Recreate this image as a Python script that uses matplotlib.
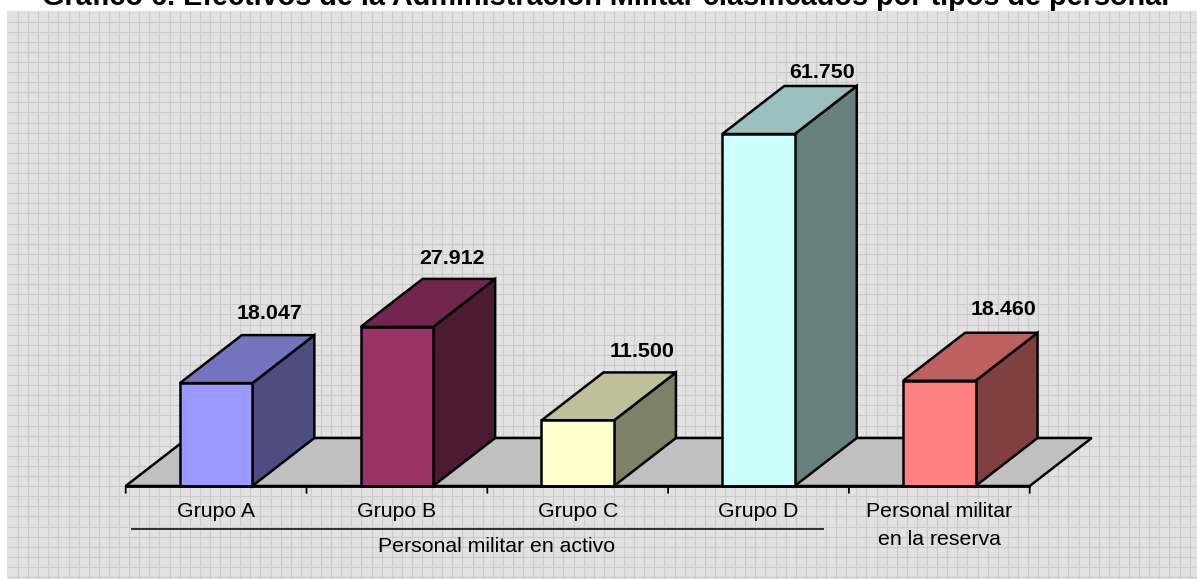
import numpy as np
import matplotlib
matplotlib.use("Agg")
import matplotlib.pyplot as plt
from matplotlib.patches import Polygon

plt.rcParams['font.family'] = ['Liberation Sans', 'DejaVu Sans']

# ---- data ----
categories = ["Grupo A", "Grupo B", "Grupo C", "Grupo D", "Personal militar\nen la reserva"]
values = [18047, 27912, 11500, 61750, 18460]
value_labels = ["18.047", "27.912", "11.500", "61.750", "18.460"]
group_label = "Personal militar en activo"
title = "Gráfico 6. Efectivos de la Administración Militar clasificados por tipos de personal"
front_colors = ["#9999FF", "#993366", "#FFFFCC", "#CCFFFF", "#FF8080"]
top_colors = ["#7373BF", "#73264D", "#BFBF99", "#99BFBF", "#BF6060"]
side_colors = ["#4D4D80", "#4D1A33", "#808066", "#668080", "#804040"]
# label placement relative to the back top corner of each bar, in pixels
label_dx = [-45, -43, -34, -35, -34]
label_dy = [22, 20, 21, 14, 23]

W, H = 1197, 579
fig = plt.figure(figsize=(W / 100, H / 100), dpi=100, facecolor="white")

# ---- textured backdrop (figure pixels) ----
bg = fig.add_axes([0, 0, 1, 1], zorder=0)
bg.axis("off")
panel_x0, panel_y0 = 7, 11
yy, xx = np.mgrid[panel_y0:H, panel_x0:W]
tex = np.where((xx + yy) % 2 == 0, 0.89, 0.875)
bg.imshow(tex, cmap="gray", vmin=0, vmax=1, extent=(panel_x0, W, H, panel_y0),
          interpolation="nearest", aspect="auto")
for x in np.arange(panel_x0 + 11, W, 10.1):
    bg.plot([x, x], [panel_y0, H], color="#CBCBCB", lw=0.8, solid_capstyle="butt")
for y in np.arange(panel_y0 + 10.5, H, 10.1):
    bg.plot([panel_x0, W], [y, y], color="#CBCBCB", lw=0.8, solid_capstyle="butt")
bg.set_xlim(0, W); bg.set_ylim(H, 0)

# ---- chart axes: x in category units, y in value units ----
x0_px, x1_px = 125.7, 1029.7
base_px = 486
px_per_unit = 352 / 61750
ax_top_px = 60
ax = fig.add_axes([x0_px / W, 1 - base_px / H, (x1_px - x0_px) / W, (base_px - ax_top_px) / H],
                  zorder=1)
ax.set_xlim(0, len(values))
ax.set_ylim(0, (base_px - ax_top_px) / px_per_unit)
ax.patch.set_alpha(0)
for s in ax.spines.values():
    s.set_visible(False)
ax.set_xticks([]); ax.set_yticks([])

n = len(values)
cat_px = (x1_px - x0_px) / n
dx = 62 / cat_px            # depth in category units
dy = 48 / px_per_unit       # depth in value units
bw = 72.5 / cat_px
lw = 1.8
ec = "black"
px = 0.72                   # points per pixel at dpi 100

def poly(pts, fc, z=2):
    ax.add_patch(Polygon(pts, closed=True, fc=fc, ec=ec, lw=lw, joinstyle="miter",
                         zorder=z, clip_on=False))

# floor
poly([(0, 0), (n, 0), (n + dx, dy), (dx, dy)], "#C0C0C0", z=2)
# bars
for i, (v, f, t, s, lab) in enumerate(zip(values, front_colors, top_colors, side_colors, value_labels)):
    l, r = i + 0.5 - bw / 2, i + 0.5 + bw / 2
    poly([(r, 0), (r + dx, dy), (r + dx, v + dy), (r, v)], s, z=3)
    poly([(l, v), (r, v), (r + dx, v + dy), (l + dx, v + dy)], t, z=3)
    poly([(l, 0), (r, 0), (r, v), (l, v)], f, z=4)
    ax.annotate(lab, (r + dx, v + dy), xytext=(label_dx[i] * px, label_dy[i] * px),
                textcoords="offset points", ha="center", va="center", fontsize=15.4,
                fontweight="bold", color="black", annotation_clip=False, zorder=6)

# axis line and ticks
ax.plot([0, n], [0, 0], color=ec, lw=2.0, zorder=5, clip_on=False, solid_capstyle="butt")
for i in range(n + 1):
    ax.annotate("", (i, 0), xytext=(0, -5), textcoords="offset points",
                arrowprops=dict(arrowstyle="-", color=ec, lw=1.3, shrinkA=0, shrinkB=0))

# category labels
for i, c in enumerate(categories):
    ax.annotate(c, (i + 0.5, 0), xytext=(0, -16 * px), textcoords="offset points", ha="center",
                va="top", fontsize=15.3, linespacing=1.6, annotation_clip=False)

# group bracket under the active-duty categories
ybr = -43 / px_per_unit
ax.plot([0.03, 3.86], [ybr, ybr], color=ec, lw=1.1, clip_on=False, solid_capstyle="butt")
ax.annotate(group_label, (2.05, 0), xytext=(0, -51 * px), textcoords="offset points", ha="center",
            va="top", fontsize=15.3, annotation_clip=False)

# title, cropped by the top edge as in the source
fig.text(605.5 / W, 1 - 5 / H, title, ha="center", va="baseline", fontsize=20.8,
         fontweight="bold", color="black")

fig.savefig("out.png", dpi=100, facecolor="white")
